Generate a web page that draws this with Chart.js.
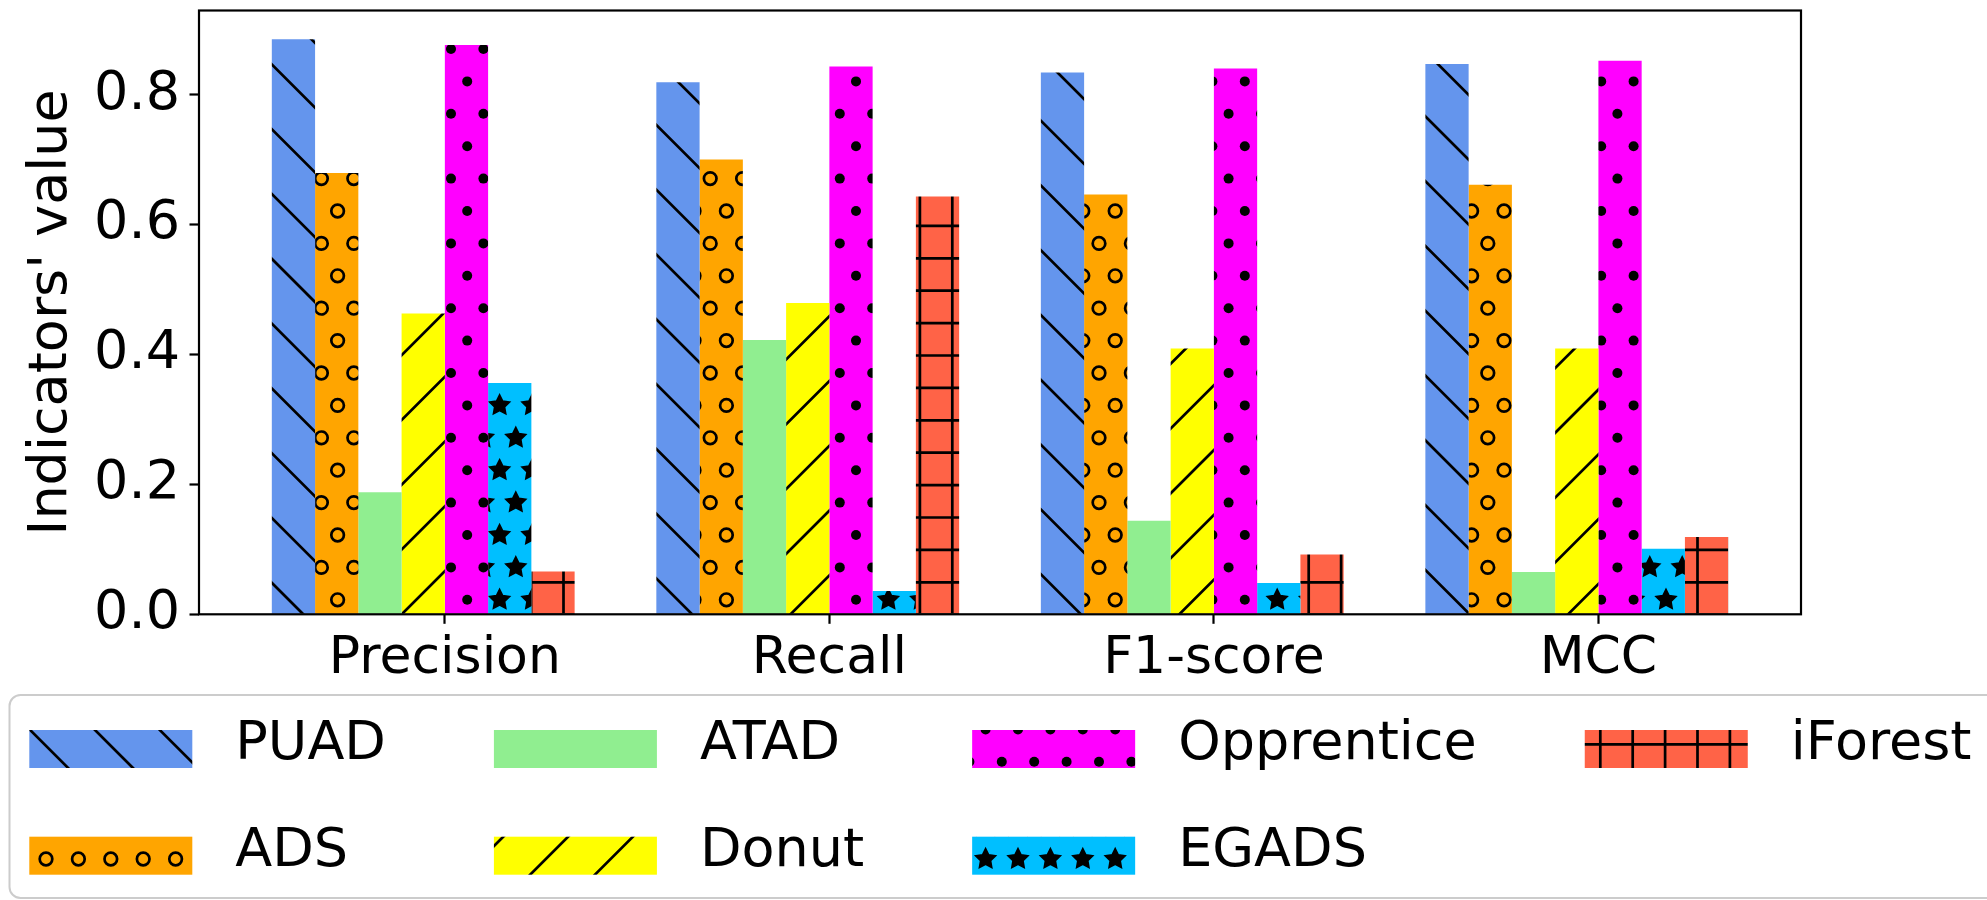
<!DOCTYPE html>
<html>
<head>
<meta charset="utf-8">
<script src="https://cdn.jsdelivr.net/npm/chart.js@4.4.1/dist/chart.umd.min.js"></script>
<style>
  html, body { margin: 0; padding: 0; background: #fff; }
  #wrap { position: relative; width: 1987px; height: 900px; }
</style>
</head>
<body>
<div id="wrap"><canvas id="barChart" width="1987" height="900"></canvas></div>
<script>
// categories and series
const metrics = ["Precision", "Recall", "F1-score", "MCC"];
const methods = ["PUAD", "ADS", "ATAD", "Donut", "Opprentice", "EGADS", "iForest"];
const puad = [0.885, 0.819, 0.834, 0.847];
const ads = [0.679, 0.7, 0.646, 0.661];
const atad = [0.188, 0.422, 0.144, 0.065];
const donut = [0.463, 0.479, 0.409, 0.409];
const opprentice = [0.876, 0.843, 0.84, 0.852];
const egads = [0.356, 0.036, 0.048, 0.101];
const iforest = [0.066, 0.643, 0.092, 0.119];
const yTicks = [0.0, 0.2, 0.4, 0.6, 0.8];

const methodColors = ["#6495ED", "#FFA500", "#90EE90", "#FFFF00", "#FF00FF", "#00BFFF", "#FF6347"];
const methodHatches = ["\\", "o", "", "/", ".", "*", "+"];

const FONT = "DejaVu Sans";
Chart.defaults.font.family = FONT;
Chart.defaults.color = "#000";

const canvas = document.getElementById("barChart");
const ctx = canvas.getContext("2d");

// hatch spacing like matplotlib (unit / 6)
const STEP = 32.4;
const PERIOD = 2 * STEP;
const TILE = 5 * PERIOD;
const HATCH_LW = 2.7;

function star(c, x, y, r) {
  c.beginPath();
  for (let k = 0; k < 10; k++) {
    const a = -Math.PI / 2 + (k * Math.PI) / 5;
    const rr = k % 2 === 0 ? r : r * 0.5;
    const px = x + rr * Math.cos(a);
    const py = y + rr * Math.sin(a);
    k === 0 ? c.moveTo(px, py) : c.lineTo(px, py);
  }
  c.closePath();
  c.fill();
  c.stroke();
}

// build a repeating fill: base colour + black hatch, anchored to the canvas
function makeFill(color, hatch) {
  if (!hatch) return color;
  const tile = document.createElement("canvas");
  tile.width = TILE;
  tile.height = TILE;
  const c = tile.getContext("2d");
  c.fillStyle = color;
  c.fillRect(0, 0, TILE, TILE);
  c.strokeStyle = "#000";
  c.fillStyle = "#000";
  c.lineWidth = HATCH_LW;

  if (hatch === "+") {
    c.beginPath();
    for (let k = -1; k <= 11; k++) {
      const x = 12.7 + k * STEP;
      const y = 31.5 + k * STEP;
      c.moveTo(x, -5); c.lineTo(x, TILE + 5);
      c.moveTo(-5, y); c.lineTo(TILE + 5, y);
    }
    c.stroke();
  } else if (hatch === "\\") {
    c.beginPath();
    for (let k = -7; k <= 7; k++) {
      const d = 13 + k * PERIOD;
      c.moveTo(d - 5, -5); c.lineTo(d + TILE + 5, TILE + 5);
    }
    c.stroke();
  } else if (hatch === "/") {
    c.beginPath();
    for (let k = -2; k <= 12; k++) {
      const d = 44 + k * PERIOD;
      c.moveTo(d + 5, -5); c.lineTo(d - TILE - 5, TILE + 5);
    }
    c.stroke();
  } else {
    c.lineJoin = "miter";
    for (let m = -2; m <= 12; m++) {
      const y = 16.6 + m * STEP;
      const shift = Math.abs(m) % 2 === 0 ? 0 : STEP / 2;
      for (let n = -1; n <= 11; n++) {
        const x = 13.6 + shift + n * STEP;
        if (hatch === "o") {
          c.beginPath(); c.arc(x, y, 6.3, 0, Math.PI * 2); c.stroke();
        } else if (hatch === ".") {
          c.beginPath(); c.arc(x, y, 5, 0, Math.PI * 2); c.fill();
        } else if (hatch === "*") {
          c.lineWidth = 1.6;
          star(c, x, y, 10.5);
        }
      }
    }
  }
  return ctx.createPattern(tile, "repeat");
}

const series = [puad, ads, atad, donut, opprentice, egads, iforest];
const datasets = methods.map((name, i) => ({
  label: name,
  data: series[i].map((v, j) => ({ x: j, y: v })),
  backgroundColor: makeFill(methodColors[i], methodHatches[i]),
  borderWidth: 0,
}));
// empty eighth slot: the original groups start 4 bars left of each tick
datasets.push({
  label: "",
  data: metrics.map((m, j) => ({ x: j, y: null })),
  backgroundColor: "rgba(0,0,0,0)",
});

// axis limits the way matplotlib autoscales a bar plot
const barW = 0.9 / 8;
const lo = -4 * barW;
const hi = metrics.length - 1 + 3 * barW;
const xMargin = 0.05 * (hi - lo);
const yMax = 1.05 * Math.max(...series.flat());

// frame on all four sides
const frame = {
  id: "frame",
  afterDatasetsDraw(chart) {
    const { left, top, width, height } = chart.chartArea;
    const c = chart.ctx;
    c.save();
    c.lineWidth = 2.2;
    c.strokeStyle = "#000";
    c.strokeRect(left, top, width, height);
    c.restore();
  },
};

// legend in two rows, filled column by column
const legendBox = {
  id: "legendBox",
  afterDraw(chart) {
    const c = chart.ctx;
    const items = chart.data.datasets.filter((d) => d.label);
    const patchW = 163;
    const patchH = 38;
    c.save();
    c.beginPath();
    c.roundRect(9.5, 695, 1995, 203, 11);
    c.fillStyle = "#fff";
    c.fill();
    c.lineWidth = 2;
    c.strokeStyle = "#cccccc";
    c.stroke();
    c.font = `54px "${FONT}"`;
    c.textBaseline = "alphabetic";
    let x = 29.3;
    for (let col = 0; col * 2 < items.length; col++) {
      let textW = 0;
      items.slice(col * 2, col * 2 + 2).forEach((d, row) => {
        const y = 730 + row * 106.7;
        c.fillStyle = d.backgroundColor;
        c.fillRect(x, y, patchW, patchH);
        c.fillStyle = "#000";
        c.fillText(d.label, x + patchW + 43, y + 29);
        textW = Math.max(textW, c.measureText(d.label).width);
      });
      x += patchW + 43 + textW + 108;
    }
    c.restore();
  },
};

new Chart(ctx, {
  type: "bar",
  data: { datasets: datasets },
  options: {
    responsive: false,
    animation: false,
    devicePixelRatio: 1,
    layout: {
      autoPadding: false,
      padding: { left: 0, top: 10.5, right: 186, bottom: 0 },
    },
    datasets: {
      bar: { categoryPercentage: 0.9, barPercentage: 1.0, inflateAmount: 0 },
    },
    plugins: {
      legend: { display: false },
      tooltip: { enabled: false },
    },
    scales: {
      x: {
        type: "linear",
        min: lo - xMargin,
        max: hi + xMargin,
        offset: false,
        grid: {
          offset: false,
          drawOnChartArea: false,
          tickLength: 9.5,
          tickWidth: 2.2,
          tickColor: "#000",
        },
        border: { display: false },
        ticks: {
          font: { size: 52 },
          color: "#000",
          padding: 4,
          autoSkip: false,
          maxRotation: 0,
          callback: (v) => metrics[v],
        },
        afterBuildTicks: (s) => {
          s.ticks = metrics.map((m, i) => ({ value: i }));
        },
        afterFit: (s) => {
          s.height = 900 - 614.3;
          s.paddingLeft = 0;
          s.paddingRight = 0;
        },
      },
      y: {
        min: 0,
        max: yMax,
        grid: {
          drawOnChartArea: false,
          tickLength: 9.5,
          tickWidth: 2.2,
          tickColor: "#000",
        },
        border: { display: false },
        ticks: {
          font: { size: 54 },
          color: "#000",
          padding: 9.5,
          callback: (v) => v.toFixed(1),
        },
        afterBuildTicks: (s) => {
          s.ticks = yTicks.map((v) => ({ value: v }));
        },
        title: {
          display: true,
          text: "Indicators' value",
          font: { size: 54 },
          color: "#000",
          padding: { top: 20, bottom: 0 },
        },
        afterFit: (s) => {
          s.width = 199;
          s.paddingTop = 0;
          s.paddingBottom = 0;
        },
      },
    },
  },
  plugins: [frame, legendBox],
});
</script>
</body>
</html>
